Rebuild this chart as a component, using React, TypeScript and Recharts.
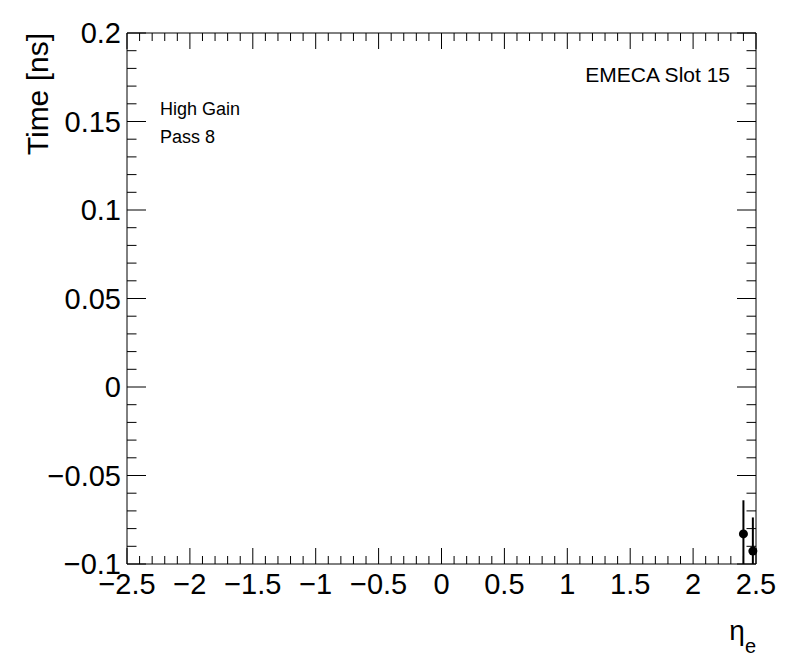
import React from "react";
import {
  ScatterChart,
  Scatter,
  XAxis,
  YAxis,
  ReferenceLine,
} from "recharts";

// data
const etaValues = [2.4, 2.475];
const timeValues = [-0.083, -0.0927];
const timeErrors = [0.019, 0.019];

const xMajorTicks = [-2.5, -2, -1.5, -1, -0.5, 0, 0.5, 1, 1.5, 2, 2.5];
const yMajorTicks = [-0.1, -0.05, 0, 0.05, 0.1, 0.15, 0.2];
const xMinorPerMajor = 5;
const yMinorPerMajor = 5;

const FONT = "'Liberation Sans', Arial, Helvetica, sans-serif";

const data = etaValues.map((eta, i) => ({ eta, time: timeValues[i], err: timeErrors[i] }));

function withMinors(majors: number[], n: number) {
  const out: number[] = [];
  for (let i = 0; i < majors.length - 1; i++) {
    const step = (majors[i + 1] - majors[i]) / n;
    for (let j = 0; j < n; j++) out.push(majors[i] + step * j);
  }
  out.push(majors[majors.length - 1]);
  return out;
}

const xTicks = withMinors(xMajorTicks, xMinorPerMajor);
const yTicks = withMinors(yMajorTicks, yMinorPerMajor);

function findMajor(v: number, majors: number[]) {
  return majors.find((m) => Math.abs(m - v) < 1e-9);
}

const fmt = (v: number) => String(v).replace("-", "\u2212");

function makeTick(side: "bottom" | "top" | "left" | "right") {
  // eslint-disable-next-line @typescript-eslint/no-explicit-any
  return function Tick({ x, y, payload }: any) {
    const majors = side === "bottom" || side === "top" ? xMajorTicks : yMajorTicks;
    const m = findMajor(payload.value, majors);
    const isMajor = m !== undefined;
    const horiz = side === "bottom" || side === "top";
    const len = horiz ? (isMajor ? 16 : 8) : isMajor ? 19 : 9.5;
    let line;
    if (side === "bottom") line = <line x1={x} y1={y} x2={x} y2={y - len} stroke="#000" />;
    else if (side === "top") line = <line x1={x} y1={y} x2={x} y2={y + len} stroke="#000" />;
    else if (side === "left") line = <line x1={x} y1={y} x2={x + len} y2={y} stroke="#000" />;
    else line = <line x1={x} y1={y} x2={x - len} y2={y} stroke="#000" />;
    return (
      <g>
        {line}
        {isMajor && side === "bottom" && (
          <text x={x} y={y + 30} textAnchor="middle" fontSize={29} fontFamily={FONT} fill="#000">
            {fmt(m as number)}
          </text>
        )}
        {isMajor && side === "left" && (
          <text x={x - 6} y={y} dy="0.36em" textAnchor="end" fontSize={29} fontFamily={FONT} fill="#000">
            {fmt(m as number)}
          </text>
        )}
      </g>
    );
  };
}

export default function App() {
  return (
    <div style={{ position: "absolute", left: 0, top: 0, width: 796, height: 672, background: "#fff" }}>
      <ScatterChart width={796} height={672} margin={{ top: 32, right: 39, bottom: 0, left: 0 }}>
        <XAxis
          xAxisId="b"
          dataKey="eta"
          type="number"
          domain={[-2.5, 2.5]}
          ticks={xTicks}
          interval={0}
          tickSize={0}
          tickMargin={0}
          tick={makeTick("bottom")}
          axisLine={{ stroke: "#000" }}
          height={108}
        />
        <XAxis
          xAxisId="t"
          orientation="top"
          dataKey="eta"
          type="number"
          domain={[-2.5, 2.5]}
          allowDataOverflow
          ticks={xTicks}
          interval={0}
          tickSize={0}
          tickMargin={0}
          tick={makeTick("top")}
          axisLine={{ stroke: "#000" }}
          height={1}
        />
        <YAxis
          yAxisId="l"
          dataKey="time"
          type="number"
          domain={[-0.1, 0.2]}
          ticks={yTicks}
          interval={0}
          tickSize={0}
          tickMargin={0}
          tick={makeTick("left")}
          axisLine={{ stroke: "#000" }}
          width={127}
        />
        <YAxis
          yAxisId="r"
          orientation="right"
          dataKey="time"
          type="number"
          domain={[-0.1, 0.2]}
          allowDataOverflow
          ticks={yTicks}
          interval={0}
          tickSize={0}
          tickMargin={0}
          tick={makeTick("right")}
          axisLine={{ stroke: "#000" }}
          width={1}
        />
        {/* empty series so the mirrored axes get drawn */}
        <Scatter data={[]} xAxisId="t" yAxisId="r" isAnimationActive={false} />
        {data.map((d, i) => (
          <ReferenceLine
            key={i}
            xAxisId="b"
            yAxisId="l"
            ifOverflow="hidden"
            stroke="#000"
            strokeWidth={2}
            segment={[
              { x: d.eta, y: d.time - d.err },
              { x: d.eta, y: d.time + d.err },
            ]}
          />
        ))}
        <Scatter
          data={data}
          xAxisId="b"
          yAxisId="l"
          fill="#000"
          isAnimationActive={false}
          // eslint-disable-next-line @typescript-eslint/no-explicit-any
          shape={(p: any) => <circle cx={p.cx} cy={p.cy} r={4.5} fill="#000" />}
        />
        <text transform="translate(48,33) rotate(-90)" textAnchor="end" fontSize={30} fontFamily={FONT} fill="#000">
          Time [ns]
        </text>
        <text x={756} y={640} textAnchor="end" fontSize={28} fontFamily={FONT} fill="#000">
          η<tspan fontSize={20} dy={13}>e</tspan>
        </text>
        <text x={730} y={82} textAnchor="end" fontSize={21} fontFamily={FONT} fill="#000">
          EMECA Slot 15
        </text>
        <text x={160} y={115} fontSize={18} fontFamily={FONT} fill="#000">
          High Gain
        </text>
        <text x={160} y={143} fontSize={18} fontFamily={FONT} fill="#000">
          Pass 8
        </text>
      </ScatterChart>
    </div>
  );
}
